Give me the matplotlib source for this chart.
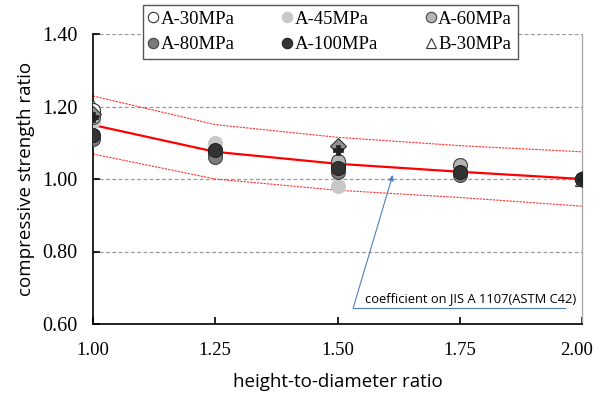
import numpy as np
import matplotlib
matplotlib.use("Agg")
import matplotlib.pyplot as plt
from matplotlib.transforms import ScaledTranslation

# ---- data ----
hd = [1.00, 1.25, 1.50, 1.75, 2.00]
a30 = [1.19, 1.08, 1.04, 1.02, 1.00]
a45 = [1.16, 1.10, 0.98, 1.04, 1.00]
a60 = [1.17, 1.07, 1.05, 1.04, 1.00]
a80 = [1.11, 1.06, 1.02, 1.01, 1.00]
a100 = [1.12, 1.08, 1.03, 1.02, 1.00]
b30 = [1.20, np.nan, 1.06, np.nan, 1.00]
b_extra1 = [1.18, np.nan, 1.09, np.nan, 1.00]
b_extra2 = [1.17, np.nan, 1.08, np.nan, 1.00]
coef = [1.149, 1.075, 1.042, 1.020, 1.000]
coef_upper = [1.229, 1.150, 1.115, 1.092, 1.075]
coef_lower = [1.069, 1.000, 0.969, 0.949, 0.925]
xticks = [1.00, 1.25, 1.50, 1.75, 2.00]
yticks = [0.60, 0.80, 1.00, 1.20, 1.40]

serif = "Liberation Serif"
sans = "Open Sans"

fig = plt.figure(figsize=(5.96, 3.94), dpi=100)
ax = fig.add_axes([93/596, 1-324/394, (582-93)/596, (324-34)/394])
ax.set_xlim(1.0, 2.0)
ax.set_ylim(0.6, 1.4)

for y in [0.8, 1.0, 1.2, 1.4]:
    ax.axhline(y, color="#999999", lw=0.9, ls=(0, (3, 2)), zorder=1)

ax.plot(hd, coef, color="#ff0000", lw=1.6, zorder=2)
ax.plot(hd, coef_upper, color="#ff3030", lw=0.8, ls=(0, (2, 1)), zorder=2)
ax.plot(hd, coef_lower, color="#ff3030", lw=0.8, ls=(0, (2, 1)), zorder=2)

ms = 10
ax.plot(hd, b30, ls="none", marker="^", ms=ms, mfc="white", mec="#333333", mew=0.8, label="B-30MPa", zorder=3)
ax.plot(hd, a30, ls="none", marker="o", ms=ms, mfc="white", mec="#333333", mew=0.8, label="A-30MPa", zorder=3)
ax.plot(hd, a45, ls="none", marker="o", ms=ms, mfc="#c8c8c8", mec="#c8c8c8", mew=0.8, label="A-45MPa", zorder=3)
ax.plot(hd, a60, ls="none", marker="o", ms=ms, mfc="#b4b4b4", mec="#444444", mew=0.8, label="A-60MPa", zorder=3)
ax.plot(hd, a80, ls="none", marker="o", ms=ms, mfc="#7a7a7a", mec="#444444", mew=0.8, label="A-80MPa", zorder=3)
ax.plot(hd, b_extra1, ls="none", marker="D", ms=8, mfc="#909090", mec="#333333", mew=0.8, zorder=4)
ax.plot(hd, a100, ls="none", marker="o", ms=ms, mfc="#333333", mec="#222222", mew=0.8, label="A-100MPa", zorder=4)
ax.plot(hd, b_extra2, ls="none", marker="P", ms=7, mfc="#222222", mec="#222222", mew=0.5, zorder=5)

for s in ["left", "bottom"]:
    ax.spines[s].set_color("black")
    ax.spines[s].set_linewidth(1.2)
ax.spines["top"].set_visible(False)
ax.spines["right"].set_color("#aaaaaa")
ax.spines["right"].set_linewidth(1.0)

ax.set_xticks(xticks)
ax.set_yticks(yticks)
ax.set_xticklabels([f"{v:.2f}" for v in xticks], fontfamily=serif, fontsize=13.5)
ax.set_yticklabels([f"{v:.2f}" for v in yticks], fontfamily=serif, fontsize=14.5)
ax.tick_params(axis="x", direction="in", length=5, width=1.2, pad=13)
ax.tick_params(axis="y", direction="in", length=5, width=1.2, pad=11)
ax.tick_params(axis="y", which="both", right=False)

# keep the last x tick label inside the image
last = ax.get_xticklabels()[-1]
last.set_transform(last.get_transform() + ScaledTranslation(-5/100, 0, fig.dpi_scale_trans))

ax.set_xlabel("height-to-diameter ratio", fontfamily=sans, fontsize=13.5, labelpad=10)
ax.set_ylabel("compressive strength ratio", fontfamily=sans, fontsize=13.5, labelpad=5)

# annotation
ax.annotate("", xy=(1.613, 1.011), xytext=(1.532, 0.644),
            arrowprops=dict(arrowstyle="-|>", color="#4f81bd", lw=0.8,
                            mutation_scale=8, shrinkA=0, shrinkB=0))
ax.plot([1.532, 1.965], [0.644, 0.644], color="#4f81bd", lw=0.8, zorder=2)
ax.text(1.557, 0.652, "coefficient on JIS A 1107(ASTM C42)", fontfamily=sans,
        fontsize=9.3, va="bottom", ha="left")

handles, labels = ax.get_legend_handles_labels()
hmap = dict(zip(labels, handles))
order = ["A-30MPa", "A-80MPa", "A-45MPa", "A-100MPa", "A-60MPa", "B-30MPa"]
hs = [hmap[l] for l in order]
leg = fig.legend(hs, order, ncol=3, loc="upper left",
                 bbox_to_anchor=(143/596, 1-5/394), bbox_transform=fig.transFigure,
                 prop={"family": serif, "size": 13.5}, frameon=True, fancybox=False,
                 edgecolor="#555555", framealpha=1, handlelength=0.5, handletextpad=0.15,
                 columnspacing=2.55, borderpad=0.3, labelspacing=0.45, markerscale=0.75,
                 borderaxespad=0)
leg.get_frame().set_linewidth(1.0)

fig.savefig("out.png", dpi=100)
